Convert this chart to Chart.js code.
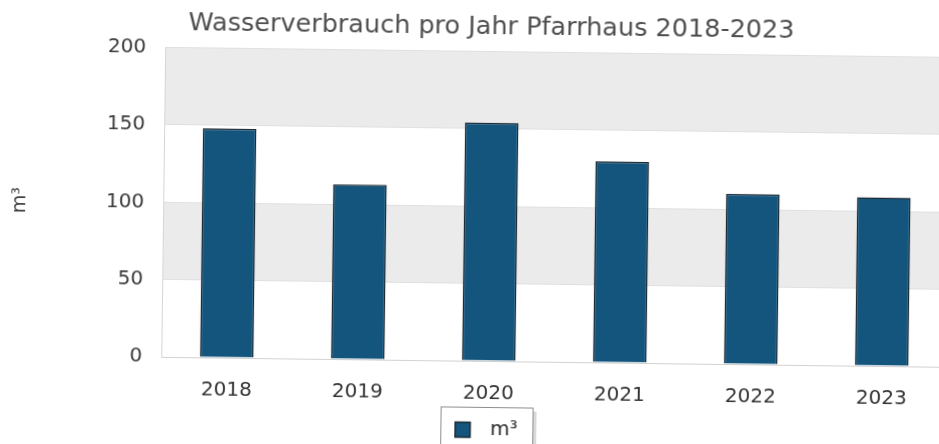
<!DOCTYPE html>
<html lang="de">
<head>
<meta charset="utf-8">
<title>Wasserverbrauch Pfarrhaus</title>
<script src="https://cdn.jsdelivr.net/npm/chart.js@4.4.1/dist/chart.umd.min.js"></script>
<style>
  html, body { margin: 0; padding: 0; background: #fff; overflow: hidden; }
  /* the scan is slightly tilted, so the whole chart is tilted too */
  #wrap { position: absolute; left: 0; top: 0; width: 978px; height: 460px;
          transform: rotate(0.73deg); transform-origin: 489px 222px; }
</style>
</head>
<body>
<div id="wrap"><canvas id="chart" width="978" height="460"></canvas></div>
<script>
const years = ['2018', '2019', '2020', '2021', '2022', '2023'];
const verbrauch = [148, 113, 154, 130, 110, 109];
const yTicks = [0, 50, 100, 150, 200];
const unit = 'm³';
const chartTitle = 'Wasserverbrauch pro Jahr Pfarrhaus 2018-2023';

Chart.defaults.font.family = "'DejaVu Sans', sans-serif";
Chart.defaults.color = '#3a3a3a';

// alternating grey bands between the y ticks
const bands = {
    id: 'bands',
    beforeDraw(chart) {
        const { ctx, chartArea: a, scales: { y } } = chart;
        ctx.save();
        ctx.fillStyle = '#ebebec';
        for (let i = 1; i < yTicks.length - 1; i += 2) {
            const top = y.getPixelForValue(yTicks[i + 1]);
            const bot = y.getPixelForValue(yTicks[i]);
            ctx.fillRect(a.left, top, a.right - a.left, bot - top);
        }
        ctx.restore();
    }
};

// framed legend box with a small shadow
const legendFrame = {
    id: 'legendFrame',
    beforeDraw(chart) {
        const box = chart.legend && chart.legend.legendHitBoxes[0];
        if (!box) return;
        const ctx = chart.ctx;
        const x = Math.round(box.left - 15), y = Math.round(box.top - 13);
        const w = Math.round(box.width + 29), h = Math.round(box.height + 26);
        ctx.save();
        ctx.fillStyle = '#d9d9d9';
        ctx.fillRect(x + 4, y + 4, w, h);
        ctx.fillStyle = '#fff';
        ctx.fillRect(x, y, w, h);
        ctx.strokeStyle = '#8e8e8e';
        ctx.lineWidth = 1;
        ctx.strokeRect(x + 0.5, y + 0.5, w, h);
        ctx.restore();
    }
};

new Chart(document.getElementById('chart'), {
    type: 'bar',
    data: {
        labels: years,
        datasets: [{
            label: unit,
            data: verbrauch,
            backgroundColor: '#14557e',
            borderColor: '#1b2a32',
            borderWidth: 1.5,
            barPercentage: 0.41,
            categoryPercentage: 1
        }]
    },
    options: {
        responsive: false,
        animation: false,
        layout: { padding: { left: 0, right: 0, top: 0, bottom: 10 } },
        scales: {
            x: {
                grid: { display: false },
                border: { display: true, color: '#d2d2d2' },
                ticks: { padding: 13, font: { size: 20 }, color: '#333' },
                afterFit(s) { s.height = 49; }
            },
            y: {
                min: 0,
                max: 200,
                afterBuildTicks(s) { s.ticks = yTicks.map(v => ({ value: v })); },
                grid: { color: '#e0e0e0', drawTicks: false },
                border: { display: true, color: '#d6d6d6' },
                ticks: { padding: 19, font: { size: 20 }, color: '#3a3a3a' },
                title: { display: true, text: unit, font: { size: 19 }, color: '#444', padding: { top: 9, bottom: 0 } },
                afterFit(s) { s.width = 163; }
            },
            // empty axis on the right, keeps the plot wide while title and legend stay centred
            y2: {
                position: 'right',
                display: true,
                ticks: { display: false },
                grid: { display: false },
                border: { display: false },
                afterFit(s) { s.width = 29; }
            }
        },
        plugins: {
            title: {
                display: true,
                text: chartTitle,
                font: { size: 25.5, weight: 'normal' },
                color: '#4e4e4e',
                padding: { top: 12, bottom: 9 }
            },
            legend: {
                position: 'bottom',
                labels: {
                    boxWidth: 15,
                    boxHeight: 15,
                    padding: 10,
                    font: { size: 20 },
                    color: '#2a2a2a',
                    generateLabels(chart) {
                        return Chart.defaults.plugins.legend.labels.generateLabels(chart)
                            .map(l => ({ ...l, text: '\u2002' + l.text }));
                    }
                }
            },
            tooltip: { enabled: false }
        }
    },
    plugins: [bands, legendFrame]
});
</script>
</body>
</html>
